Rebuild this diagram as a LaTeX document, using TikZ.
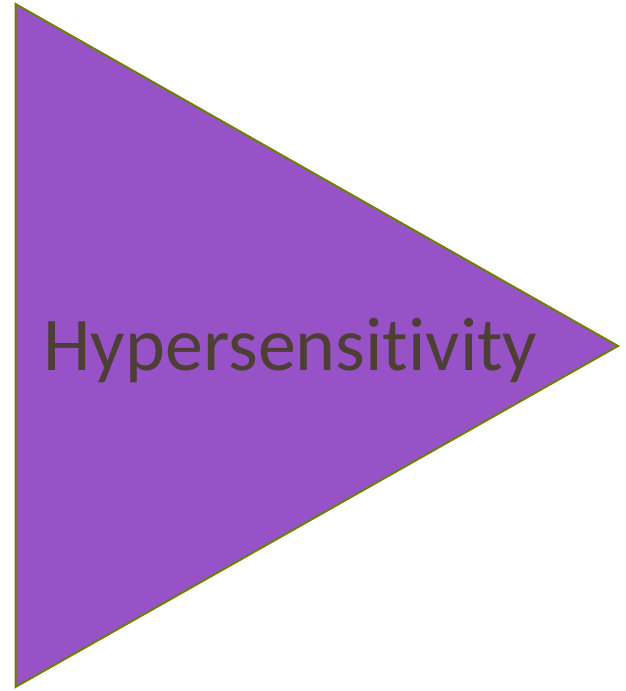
\documentclass[tikz,border=0pt]{standalone}
\usepackage{fontspec}
\setmainfont{Carlito}[Ligatures={NoCommon}]
\definecolor{trifill}{HTML}{9852C8}
\definecolor{triedge}{HTML}{6B8000}
\definecolor{txt}{HTML}{4D3F35}
\begin{document}
\begin{tikzpicture}[x=1pt,y=1pt,
  tri/.style={fill=trifill,draw=triedge,line width=2pt,line join=miter},
  lbl/.style={text=txt,font=\fontsize{76}{90}\selectfont,anchor=base,inner sep=0pt}]
\useasboundingbox (0,0) rectangle (626,691);
\coordinate (t) at (15.5,687);
\coordinate (b) at (15.5,4);
\coordinate (a) at (618,345);
\draw[tri] (t) -- (a) -- (b) -- cycle;
\node[lbl] (label) at (290.5,320) {Hypersensitivity};
\end{tikzpicture}
\end{document}
